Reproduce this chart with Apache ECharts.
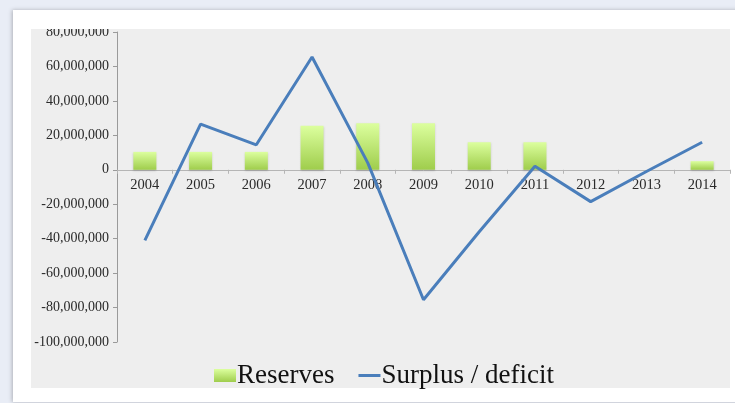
<!DOCTYPE html>
<html>
<head>
<meta charset="utf-8">
<script src="https://cdn.jsdelivr.net/npm/echarts@6/dist/echarts.min.js"></script>
<style>
  html, body { margin: 0; padding: 0; background: #e9edf6; }
  #chart { width: 735px; height: 403px; }
</style>
</head>
<body>
<div id="chart"></div>
<script>
// Yearly figures
const years = ['2004', '2005', '2006', '2007', '2008', '2009', '2010', '2011', '2012', '2013', '2014'];
const reserves = [10400000, 10400000, 10400000, 25500000, 27000000, 27000000, 16000000, 16000000, 0, 0, 5000000];
const surplusDeficit = [-41000000, 26500000, 14500000, 65500000, 4000000, -75500000, -36000000, 2000000, -18500000, -1000000, 16000000];

const yMin = -100000000;
const yMax = 80000000;
const yStep = 20000000;

const serif = '"Liberation Serif", "DejaVu Serif", serif';

// plot box
const gridTop = 32, gridBottom = 61, chartH = 403;
const plotH = chartH - gridTop - gridBottom;
// distance from the bottom of the plot to the zero line, so the year labels sit under it
const zeroFromBottom = plotH * (0 - yMin) / (yMax - yMin);

const chart = echarts.init(document.getElementById('chart'));

chart.setOption({
  animation: false,
  backgroundColor: '#e9edf6',
  graphic: [
    { type: 'rect', z: -2, shape: { x: 13, y: 10, width: 740, height: 392 },
      style: { fill: '#ffffff', shadowBlur: 4, shadowColor: 'rgba(0,0,0,0.25)', shadowOffsetX: -1 } },
    { type: 'rect', z: -1, shape: { x: 31, y: 29, width: 699, height: 359 },
      style: { fill: '#eeeeee' } },
    // top edge of the plot panel trims the highest tick label
    { type: 'rect', z: 100, zlevel: 1, shape: { x: 31, y: 10, width: 120, height: 19 },
      style: { fill: '#ffffff' } }
  ],
  grid: { left: 117, right: 5, top: gridTop, bottom: gridBottom, containLabel: false },
  legend: {
    left: 209,
    top: 357,
    itemGap: 24,
    itemWidth: 22,
    itemHeight: 13,
    textStyle: { fontFamily: serif, fontSize: 27, color: '#111111', padding: [0, 0, 0, -4] },
    data: [
      { name: 'Reserves', icon: 'rect' },
      { name: 'Surplus / deficit', icon: 'path://M0,5H22V8H0Z' }
    ]
  },
  xAxis: {
    type: 'category',
    data: years,
    axisLine: { onZero: true, lineStyle: { color: '#b5b5b5', width: 1 } },
    axisTick: { show: true, alignWithLabel: false, length: 4, lineStyle: { color: '#b5b5b5' } },
    axisLabel: { fontFamily: serif, fontSize: 14.5, color: '#2a2a2a', margin: 8 - zeroFromBottom },
    splitLine: { show: false }
  },
  yAxis: {
    type: 'value',
    min: yMin,
    max: yMax,
    interval: yStep,
    axisLine: { show: true, lineStyle: { color: '#9a9a9a', width: 1 } },
    axisTick: { show: true, length: 4, lineStyle: { color: '#9a9a9a' } },
    axisLabel: {
      fontFamily: serif, fontSize: 14, color: '#2a2a2a', margin: 8,
      formatter: v => v.toLocaleString('en-US')
    },
    splitLine: { show: false }
  },
  series: [
    {
      name: 'Reserves',
      type: 'bar',
      data: reserves,
      barWidth: 23,
      itemStyle: {
        color: new echarts.graphic.LinearGradient(0, 0, 0, 1, [
          { offset: 0, color: '#dcff9e' },
          { offset: 1, color: '#9fcd4c' }
        ]),
        shadowBlur: 2,
        shadowColor: 'rgba(0,0,0,0.15)',
        shadowOffsetY: 1
      }
    },
    {
      name: 'Surplus / deficit',
      type: 'line',
      data: surplusDeficit,
      symbol: 'none',
      lineStyle: { color: '#4a7ebb', width: 3 },
      itemStyle: { color: '#4a7ebb' },
      z: 3
    }
  ]
});
</script>
</body>
</html>
